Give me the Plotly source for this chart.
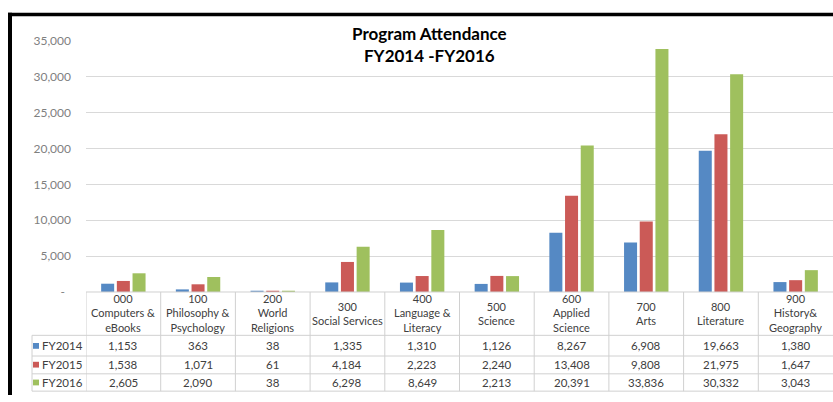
import plotly.graph_objects as go

# ---- data ----
categories = [
    "000<br>Computers &<br>eBooks",
    "100<br>Philosophy &<br>Psychology",
    "200<br>World<br>Religions",
    "300<br>Social Services",
    "400<br>Language &<br>Literacy",
    "500<br>Science",
    "600<br>Applied<br>Science",
    "700<br>Arts",
    "800<br>Literature",
    "900<br>History&<br>Geography",
]
series_names = ["FY2014", "FY2015", "FY2016"]
fy2014 = [1153, 363, 38, 1335, 1310, 1126, 8267, 6908, 19663, 1380]
fy2015 = [1538, 1071, 61, 4184, 2223, 2240, 13408, 9808, 21975, 1647]
fy2016 = [2605, 2090, 38, 6298, 8649, 2213, 20391, 33836, 30332, 3043]
y_tickvals = [0, 5000, 10000, 15000, 20000, 25000, 30000, 35000]
y_ticktext = ["-\u00a0\u00a0", "5,000", "10,000", "15,000", "20,000", "25,000", "30,000", "35,000"]
title_lines = ["Program Attendance", "FY2014 -FY2016"]

colors = ["#5589C4", "#CB5A57", "#9FC05E"]
series = [fy2014, fy2015, fy2016]

W, H = 833, 402
FONT = "Lato"
TXT = "#404040"
GRID = "#D9D9D9"
TBL = "#D0D0D0"


def px(x):
    return x / W


def py(y):
    return 1 - y / H


fig = go.Figure()
for name, vals, c in zip(series_names, series, colors):
    fig.add_trace(go.Bar(x=categories, y=vals, name=name, marker=dict(color=c, line=dict(width=0)),
                         hoverinfo="skip"))

shapes = []
annotations = []

line_style = dict(color=TBL, width=1)
shapes.append(dict(type="line", xref="x", yref="paper", x0=-0.5, x1=9.5, y0=py(295), y1=py(295), line=line_style))
for yy in [340, 361.5, 380, 398]:
    shapes.append(dict(type="line", xref="paper", yref="paper", x0=px(32), x1=1, y0=py(yy), y1=py(yy), line=line_style))
for i in range(len(categories)):
    shapes.append(dict(type="line", xref="x", yref="paper", x0=i - 0.5, x1=i - 0.5, y0=py(295), y1=py(398), line=line_style))
shapes.append(dict(type="line", xref="paper", yref="paper", x0=px(32), x1=px(32), y0=py(340), y1=py(398), line=line_style))

# header labels
for cat in categories:
    annotations.append(dict(x=cat, xref="x", y=py(317), yref="paper", text=cat, showarrow=False,
                            xanchor="center", yanchor="middle", font=dict(family=FONT, size=11, color=TXT)))

# rows
row_centers = [351, 370.5, 389]
for name, vals, c, yc in zip(series_names, series, colors, row_centers):
    shapes.append(dict(type="rect", xref="paper", yref="paper", x0=px(33), x1=px(39), y0=py(yc + 3), y1=py(yc - 3),
                       fillcolor=c, line=dict(width=0)))
    annotations.append(dict(x=px(40), xref="paper", y=py(yc), yref="paper", text=name, showarrow=False,
                            xanchor="left", yanchor="middle", font=dict(family=FONT, size=11.5, color=TXT)))
    for cat, v in zip(categories, vals):
        annotations.append(dict(x=cat, xref="x", y=py(yc), yref="paper", text=f"{v:,}", showarrow=False,
                                xanchor="center", yanchor="middle", font=dict(family=FONT, size=11.5, color=TXT)))

# title
annotations.append(dict(x=px(429), xref="paper", y=py(38), yref="paper",
                        text="<br>".join(f"<b>{t}</b>" for t in title_lines), showarrow=False,
                        xanchor="center", yanchor="middle", bgcolor="white",
                        font=dict(family=FONT, size=17, color="#000000")))

# black frame (screenshot border): left and top bars
shapes.append(dict(type="rect", xref="paper", yref="paper", x0=px(8), x1=px(12), y0=0, y1=py(5),
                   fillcolor="black", line=dict(width=0)))
shapes.append(dict(type="rect", xref="paper", yref="paper", x0=px(8), x1=1, y0=py(8.5), y1=py(5),
                   fillcolor="black", line=dict(width=0)))

fig.update_layout(
    width=W, height=H,
    margin=dict(l=0, r=0, t=0, b=0),
    paper_bgcolor="white", plot_bgcolor="white",
    barmode="group", bargap=0.37, bargroupgap=0.17,
    showlegend=False,
    xaxis=dict(domain=[px(86), 1], range=[-0.5, 9.5], showticklabels=False, showgrid=False,
               zeroline=False, showline=False, ticks=""),
    yaxis=dict(domain=[py(295), py(34)], range=[0, 35000], tickvals=y_tickvals, ticktext=y_ticktext,
               showgrid=True, gridcolor=GRID, gridwidth=1, zeroline=False, showline=False, ticks="",
               ticklabelstandoff=14, tickfont=dict(family=FONT, size=12, color="#7F7F7F")),
    shapes=shapes,
    annotations=annotations,
    font=dict(family=FONT),
)

fig.write_html(
    "out.html",
    config={"displayModeBar": False},
    post_script=(
        "document.body.style.margin='0';"
        "document.body.style.overflow='hidden';"
        "document.documentElement.style.overflow='hidden';"
    ),
)
